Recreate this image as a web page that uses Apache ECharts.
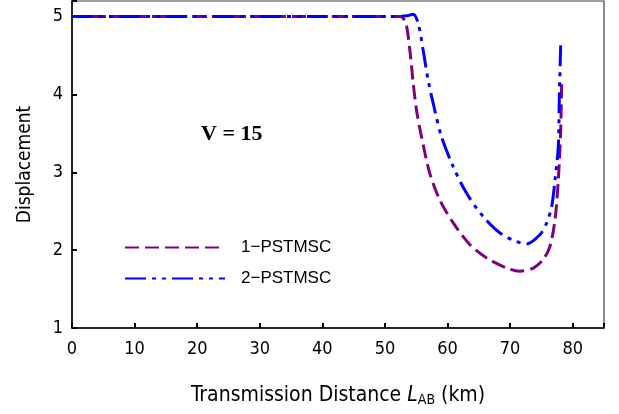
<!DOCTYPE html>
<html><head><meta charset="utf-8">
<script src="https://cdn.jsdelivr.net/npm/echarts@6/dist/echarts.min.js"></script>
<style>html,body{margin:0;padding:0;background:#fff}#c{width:619px;height:414px}</style>
</head><body><div id="c"></div>
<script>
const seriesNames = ['1\u2212PSTMSC', '2\u2212PSTMSC'];
const xTicks = [0, 10, 20, 30, 40, 50, 60, 70, 80];
const yTicks = [1, 2, 3, 4, 5];
const dist1 = [0, 10, 20, 30, 40, 50, 52.5, 53.35, 53.99, 54.52, 55.06, 55.86, 57.19, 58.79, 60.91, 63.58, 66.25, 69.45, 71.57, 73.70, 75.30, 76.37, 77.17, 77.70, 78.08, 78.24];
const disp1 = [5, 5, 5, 5, 5, 5, 5, 4.91, 4.56, 4.14, 3.79, 3.45, 2.98, 2.64, 2.35, 2.07, 1.90, 1.77, 1.73, 1.77, 1.88, 2.05, 2.39, 2.90, 3.54, 4.18];
const dist2 = [0, 10, 20, 30, 40, 50, 53.5, 54.52, 55.32, 56.12, 56.91, 57.98, 59.06, 60.91, 63.05, 65.71, 68.38, 71.05, 72.65, 74.78, 75.84, 76.64, 77.17, 77.70, 77.86, 78.08];
const disp2 = [5, 5, 5, 5, 5, 5, 5.01, 5.03, 4.91, 4.56, 4.18, 3.79, 3.45, 3.07, 2.73, 2.43, 2.22, 2.11, 2.08, 2.20, 2.35, 2.56, 2.90, 3.33, 3.96, 4.63];

const pairs = (xs, ys) => xs.map((x, i) => [x, ys[i]]);
const tickFont = 'DejaVu Sans Condensed';
const chart = echarts.init(document.getElementById('c'), null, {renderer: 'canvas'});
chart.setOption({
  animation: false,
  backgroundColor: '#fff',
  grid: {left: 72, right: 15, top: 1, bottom: 86, show: true, borderColor: '#444', borderWidth: 1.2, backgroundColor: 'transparent'},
  title: {text: 'V = 15', left: 201, top: 123, padding: 0, textStyle: {fontFamily: 'Liberation Serif', fontWeight: 'bold', fontSize: 22, color: '#000'}},
  legend: {
    orient: 'vertical', left: 124, top: 239, padding: 0, itemWidth: 100, itemHeight: 14, itemGap: 14,
    data: seriesNames,
    itemStyle: {opacity: 0},
    textStyle: {fontFamily: 'Liberation Sans', fontSize: 17, color: '#000', padding: [0, 0, 0, 11]}
  },
  xAxis: {
    type: 'value', min: 0, max: 85, interval: 10,
    axisLine: {show: true, lineStyle: {color: '#000', width: 1.5}},
    axisTick: {show: true, inside: true, length: 5, lineStyle: {color: '#000', width: 2}},
    splitLine: {show: false},
    axisLabel: {fontFamily: tickFont, fontSize: 18, color: '#000', margin: 12,
      formatter: v => xTicks.includes(v) ? String(v) : ''},
    name: '{n|Transmission Distance }{i|L}{s|AB}{n| (km)}',
    nameLocation: 'middle', nameGap: 57,
    nameTextStyle: {rich: {
      n: {fontFamily: tickFont, fontSize: 21, color: '#000'},
      i: {fontFamily: tickFont, fontSize: 21, fontStyle: 'italic', color: '#000'},
      s: {fontFamily: tickFont, fontSize: 14, color: '#000', verticalAlign: 'bottom', padding: [8, 0, 0, 0]}
    }}
  },
  yAxis: {
    type: 'value', min: 1, max: 5.2, interval: 1,
    axisLine: {show: true, lineStyle: {color: '#000', width: 1.5}},
    axisTick: {show: true, inside: true, length: 5, lineStyle: {color: '#000', width: 2}},
    splitLine: {show: false},
    axisLabel: {fontFamily: tickFont, fontSize: 18, color: '#000', margin: 9,
      formatter: v => yTicks.includes(v) ? String(v) : ''},
    name: 'Displacement', nameLocation: 'middle', nameGap: 37,
    nameTextStyle: {fontFamily: tickFont, fontSize: 19, color: '#000'}
  },
  series: [
    {name: seriesNames[0], type: 'line', data: pairs(dist1, disp1), showSymbol: false, symbol: 'none',
     smooth: 0.3, color: '#800080',
     lineStyle: {color: '#800080', width: 3, type: [14, 6], cap: 'butt'}},
    {name: seriesNames[1], type: 'line', data: pairs(dist2, disp2), showSymbol: false, symbol: 'none',
     smooth: 0.3, color: '#0000ff',
     lineStyle: {color: '#0000ff', width: 3, type: [21, 6, 4, 6, 4, 6], cap: 'butt'}}
  ]
});
</script></body></html>
